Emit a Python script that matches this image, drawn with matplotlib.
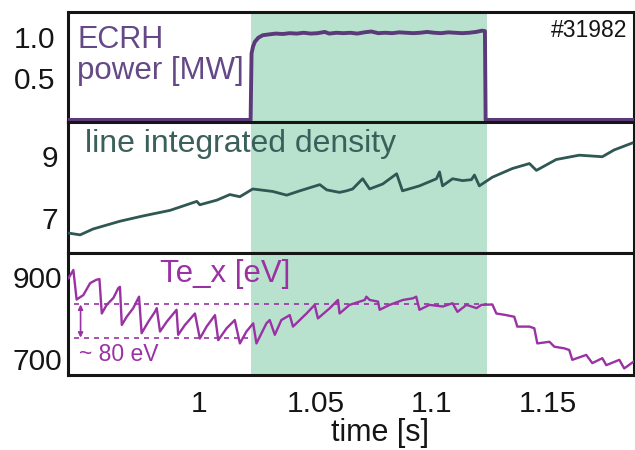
import matplotlib
matplotlib.use("Agg")
import matplotlib.pyplot as plt
from matplotlib import rcParams
rcParams['font.family'] = ['Liberation Sans', 'DejaVu Sans']

# ECRH power [MW]
pw_t = [0.9438, 1.0222, 1.0226, 1.0232, 1.0240, 1.0255, 1.0274, 1.0300, 1.0330, 1.0360,
        1.0390, 1.0420, 1.0450, 1.0480, 1.0510, 1.0540, 1.0560, 1.0590, 1.0620, 1.0650,
        1.0680, 1.0710, 1.0740, 1.0770, 1.0800, 1.0830, 1.0860, 1.0890, 1.0920, 1.0950,
        1.0980, 1.1010, 1.1040, 1.1070, 1.1100, 1.1130, 1.1160, 1.1190, 1.1215, 1.1228,
        1.1231, 1.1868]
pw_v = [0, 0, 0.80, 0.88, 0.94, 0.99, 1.02, 1.03, 1.04, 1.035,
        1.045, 1.04, 1.05, 1.04, 1.045, 1.06, 1.04, 1.05, 1.045, 1.05,
        1.04, 1.055, 1.065, 1.045, 1.05, 1.045, 1.055, 1.05, 1.045, 1.05,
        1.06, 1.05, 1.045, 1.055, 1.05, 1.045, 1.05, 1.06, 1.075, 1.07,
        0, 0]

# line integrated density
ne_t = [0.9438, 0.9490, 0.9546, 0.9661, 0.9760, 0.9876, 0.9991, 1.0004, 1.0077, 1.0133,
        1.0176, 1.0231, 1.0317, 1.0377, 1.0433, 1.0519, 1.0549, 1.0604, 1.0634, 1.0660,
        1.0703, 1.0733, 1.0789, 1.0849, 1.0874, 1.0947, 1.1020, 1.1033, 1.1046, 1.1089,
        1.1132, 1.1170, 1.1183, 1.1204, 1.1260, 1.1346, 1.1419, 1.1449, 1.1534, 1.1633,
        1.1732, 1.1783, 1.1860]
ne_v = [6.53, 6.47, 6.66, 6.91, 7.08, 7.26, 7.55, 7.44, 7.59, 7.77,
        7.70, 7.95, 7.87, 7.75, 7.89, 8.09, 7.92, 7.84, 7.89, 7.95,
        8.28, 7.95, 8.11, 8.44, 7.89, 8.05, 8.28, 8.50, 8.05, 8.28,
        8.22, 8.25, 8.40, 8.05, 8.33, 8.61, 8.77, 8.55, 8.90, 9.04,
        8.99, 9.21, 9.43]

# Te_x [eV]
te_t = [0.9440, 0.9461, 0.9475, 0.9504, 0.9533, 0.9559, 0.9573, 0.9583, 0.9604, 0.9633,
        0.9654, 0.9661, 0.9669, 0.9690, 0.9718, 0.9743, 0.9754, 0.9783, 0.9811, 0.9819,
        0.9833, 0.9862, 0.9904, 0.9911, 0.9940, 0.9983, 1.0004, 1.0033, 1.0069, 1.0083,
        1.0119, 1.0154, 1.0176, 1.0204, 1.0233, 1.0247, 1.0290, 1.0304, 1.0326, 1.0354,
        1.0390, 1.0404, 1.0462, 1.0497, 1.0511, 1.0562, 1.0597, 1.0604, 1.0647, 1.0712,
        1.0719, 1.0733, 1.0769, 1.0776, 1.0819, 1.0876, 1.0919, 1.0933, 1.0947, 1.0990,
        1.1047, 1.1089, 1.1110, 1.1149, 1.1192, 1.1213, 1.1260, 1.1277, 1.1320, 1.1354,
        1.1367, 1.1419, 1.1440, 1.1453, 1.1505, 1.1526, 1.1569, 1.1590, 1.1603, 1.1663,
        1.1689, 1.1732, 1.1749, 1.1805, 1.1826, 1.1865]
te_v = [897, 917, 845, 856, 885, 893, 895, 811, 832, 849,
        873, 876, 783, 803, 824, 852, 763, 791, 815, 824,
        767, 791, 820, 759, 783, 811, 750, 779, 807, 746,
        775, 795, 738, 767, 787, 738, 787, 795, 759, 795,
        807, 779, 811, 832, 799, 824, 844, 811, 832, 844,
        852, 844, 840, 820, 832, 844, 848, 852, 820, 832,
        828, 836, 815, 832, 824, 832, 833, 811, 807, 803,
        779, 779, 775, 738, 742, 730, 726, 722, 698, 710,
        690, 702, 685, 698, 677, 693]

ecrh_on, ecrh_off = 1.0223, 1.1235
te_hi, te_lo = 833, 752
xticks = [1.0, 1.05, 1.1, 1.15]
xtick_labels = ["1", "1.05", "1.1", "1.15"]

W, H = 635, 450
fig = plt.figure(figsize=(6.35, 4.5), dpi=100)

def rect(top, bottom, left=68, right=634):
    return [left / W, 1 - bottom / H, (right - left) / W, (bottom - top) / H]

ax1 = fig.add_axes(rect(12, 122))
ax2 = fig.add_axes(rect(122, 253), sharex=ax1)
ax3 = fig.add_axes(rect(253, 375), sharex=ax1)

green = '#b9e2ce'
c_pw = '#5a3a78'
c_ne = '#2f5753'
c_te = '#9a32a4'

for ax in (ax1, ax2, ax3):
    ax.axvspan(ecrh_on, ecrh_off, color=green, lw=0, zorder=0)
    for s in ax.spines.values():
        s.set_linewidth(2.2)
        s.set_color('#151515')
    ax.tick_params(length=0, labelsize=21.5, colors='#151515')

ax1.plot(pw_t, pw_v, color=c_pw, lw=2.8, zorder=3)
ax1.set_ylim(-0.025, 1.30)
ax1.set_yticks([0.5, 1.0])
ax1.set_yticklabels(["0.5", "1.0"])
ax1.tick_params(axis='y', pad=9)

ax2.plot(ne_t, ne_v, color=c_ne, lw=2.0, zorder=3)
ax2.set_ylim(5.885, 10.11)
ax2.set_yticks([7, 9])
ax2.tick_params(axis='y', pad=7)

ax3.plot(te_t, te_v, color=c_te, lw=1.7, zorder=3)
ax3.plot([0.9465, ecrh_off], [te_hi, te_hi], color=c_te, lw=1.2, ls=(0, (3, 3)), zorder=2)
ax3.plot([0.9465, 1.021], [te_lo, te_lo], color=c_te, lw=1.2, ls=(0, (3, 3)), zorder=2)
ax3.annotate('', xy=(0.9492, te_lo), xytext=(0.9492, te_hi),
             arrowprops=dict(arrowstyle='<|-|>', color=c_te, lw=1.2,
                             mutation_scale=7, shrinkA=0, shrinkB=0))
ax3.set_ylim(661, 958.5)
ax3.set_yticks([700, 900])
ax3.tick_params(axis='y', pad=4)

ax1.set_xlim(0.9438, 1.1868)
ax3.set_xticks(xticks)
ax3.set_xticklabels(xtick_labels)
ax3.tick_params(axis='x', pad=11)
for ax in (ax1, ax2):
    ax.tick_params(axis='x', labelbottom=False)

def ftext(x, y, s, **kw):
    fig.text(x / W, 1 - y / H, s, **kw)

ftext(77, 48, "ECRH", color='#654987', fontsize=22, va='baseline')
ftext(77, 79, "power [MW]", color='#654987', fontsize=22.5, va='baseline')
ftext(627, 37, "#31982", color='#151515', fontsize=16.5, va='baseline', ha='right')
ftext(85, 152, "line integrated density", color='#3b605c', fontsize=23, va='baseline')
ftext(160, 282, "Te_x [eV]", color=c_te, fontsize=22.5, va='baseline')
ftext(79, 361, "~ 80 eV", color=c_te, fontsize=16.5, va='baseline')
ftext(380, 441, "time [s]", color='#151515', fontsize=22, va='baseline', ha='center')

fig.savefig("out.png", dpi=100)
